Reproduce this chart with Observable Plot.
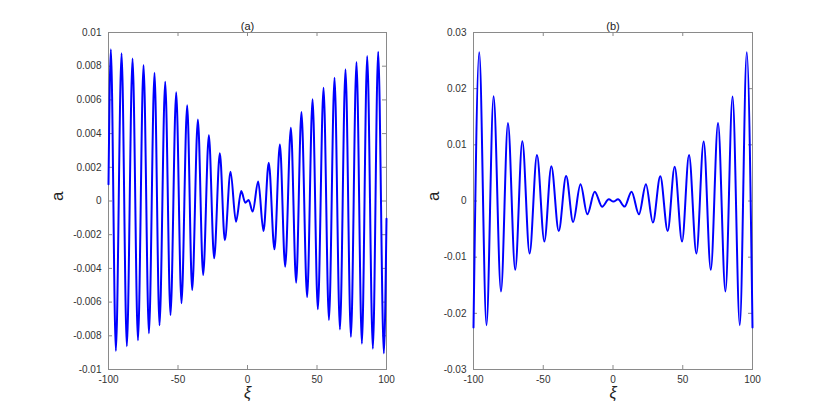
<!DOCTYPE html>
<html><head><meta charset="utf-8">
<script src="https://cdn.jsdelivr.net/npm/d3@7"></script>
<script src="https://cdn.jsdelivr.net/npm/@observablehq/plot@0.6"></script>
<style>
html,body{margin:0;padding:0;background:#fff;}
#wrap{position:relative;width:830px;height:415px;overflow:hidden;font-family:"Liberation Sans",Arial,sans-serif;}
#wrap > div{position:absolute;top:0;}
</style></head><body>
<div id="wrap"><div id="pa" style="left:0"></div><div id="pb" style="left:415px"></div></div>
<script>
// Panel (a): extrema (xi, a)
const xiA = [-100, -98.3, -94.7, -90.6, -86.8, -82.7, -78.8, -74.8, -70.9, -66.9, -63.3, -59.2, -55.4, -51.3, -47.5, -43.4, -39.8, -35.7, -31.9, -27.8, -24.0, -19.9, -16.3, -12.2, -8.3, -4.5, -1.6, 0.8, 3.7, 7.7, 11.5, 15.3, 19.4, 23.3, 27.1, 31.2, 35.0, 38.8, 42.9, 46.8, 50.6, 54.7, 58.6, 62.6, 66.5, 70.5, 74.4, 78.4, 82.3, 86.1, 90.2, 94.0, 98.1, 100];
const aA  = [0.0010, 0.0090, -0.0089, 0.00877, -0.00862, 0.00845, -0.00827, 0.00807, -0.00785, 0.00761, -0.00738, 0.00708, -0.00677, 0.00645, -0.00607, 0.00568, -0.00528, 0.00483, -0.00439, 0.0039, -0.0034, 0.00283, -0.00233, 0.00174, -0.00123, 0.00059, -0.0001, 0.00006, -0.00063, 0.00115, -0.00178, 0.00227, -0.00287, 0.00336, -0.0039, 0.00435, -0.00485, 0.00528, -0.0057, 0.00604, -0.00643, 0.00672, -0.00706, 0.00732, -0.00762, 0.00782, -0.00807, 0.00825, -0.00847, 0.0086, -0.00877, 0.00886, -0.00904, -0.00105];

// Panel (b): extrema (xi, a)
const xiB = [-100, -95.9, -90.7, -85.6, -80.3, -75.3, -70.1, -65.0, -59.8, -54.5, -49.2, -44.2, -38.9, -33.6, -28.6, -23.3, -18.4, -13.1, -7.8, -3.0, 0.3, 3.6, 8.3, 13.3, 18.6, 23.6, 28.6, 33.9, 39.2, 44.2, 49.5, 54.5, 59.8, 65.0, 70.1, 75.3, 80.6, 85.7, 90.9, 95.9, 100];
const aB  = [-0.0225, 0.0265, -0.0221, 0.01864, -0.0161, 0.0139, -0.01225, 0.01065, -0.00935, 0.00817, -0.00722, 0.0062, -0.00533, 0.00444, -0.00373, 0.00296, -0.00237, 0.00166, -0.00101, 0.0003, -0.0001, 0.0003, -0.001, 0.00166, -0.00237, 0.003, -0.00385, 0.0044, -0.00533, 0.0061, -0.00722, 0.0082, -0.00935, 0.0106, -0.01225, 0.0139, -0.0161, 0.0186, -0.0221, 0.0265, -0.0225];

const xTicks = [-100, -50, 0, 50, 100];
const yTicksA = [-0.01, -0.008, -0.006, -0.004, -0.002, 0, 0.002, 0.004, 0.006, 0.008, 0.01];
const yTicksB = [-0.03, -0.02, -0.01, 0, 0.01, 0.02, 0.03];
const titles = ["(a)", "(b)"];
const yLabel = "a";
const xLabel = "ξ";

function panel({xi, a, yDomain, yTicks, title, ml, mr, labelDx}) {
  const W = 415, H = 415, mt = 32, mb = 46;
  const fw = W - ml - mr, fh = H - mt - mb;
  const data = xi.map((x, i) => ({x, y: a[i]}));
  const grey = "#8a8a8a";
  return Plot.plot({
    width: W, height: H,
    marginLeft: ml, marginRight: mr, marginTop: mt, marginBottom: mb,
    style: {fontFamily: '"Liberation Sans", Arial, sans-serif', background: "white", overflow: "visible"},
    x: {domain: [-100, 100]},
    y: {domain: yDomain},
    marks: [
      Plot.frame({stroke: grey}),
      Plot.tickX(xTicks, {x: d => d, stroke: grey, insetTop: fh - 4}),
      Plot.tickX(xTicks, {x: d => d, stroke: grey, insetBottom: fh - 4}),
      Plot.tickY(yTicks, {y: d => d, stroke: grey, insetRight: fw - 4}),
      Plot.tickY(yTicks, {y: d => d, stroke: grey, insetLeft: fw - 4}),
      Plot.axisX(xTicks, {tickSize: 0, tickPadding: 6, tickFormat: d => String(d), fontSize: 10, fill: "#333", label: null}),
      Plot.axisY(yTicks, {tickSize: 0, tickPadding: 7, tickFormat: d => String(d), fontSize: 10, fill: "#333", label: null}),
      Plot.line(data, {x: "x", y: "y", stroke: "#0000ff", strokeWidth: 2, curve: "monotone-x"}),
      Plot.text([title], {text: d => d, frameAnchor: "top", dy: -10, fontSize: 11, fill: "#222"}),
      Plot.text([yLabel], {text: d => d, frameAnchor: "left", dx: labelDx, rotate: -90, fontSize: 17, fill: "#222"}),
      Plot.text([xLabel], {text: d => d, frameAnchor: "bottom", dy: 28, fontSize: 16, fontStyle: "italic", fill: "#222"})
    ]
  });
}

document.getElementById("pa").append(panel({xi: xiA, a: aA, yDomain: [-0.01, 0.01], yTicks: yTicksA, title: titles[0], ml: 108, mr: 29, labelDx: -51}));
document.getElementById("pb").append(panel({xi: xiB, a: aB, yDomain: [-0.03, 0.03], yTicks: yTicksB, title: titles[1], ml: 58, mr: 78, labelDx: -40}));
</script>
</body></html>
